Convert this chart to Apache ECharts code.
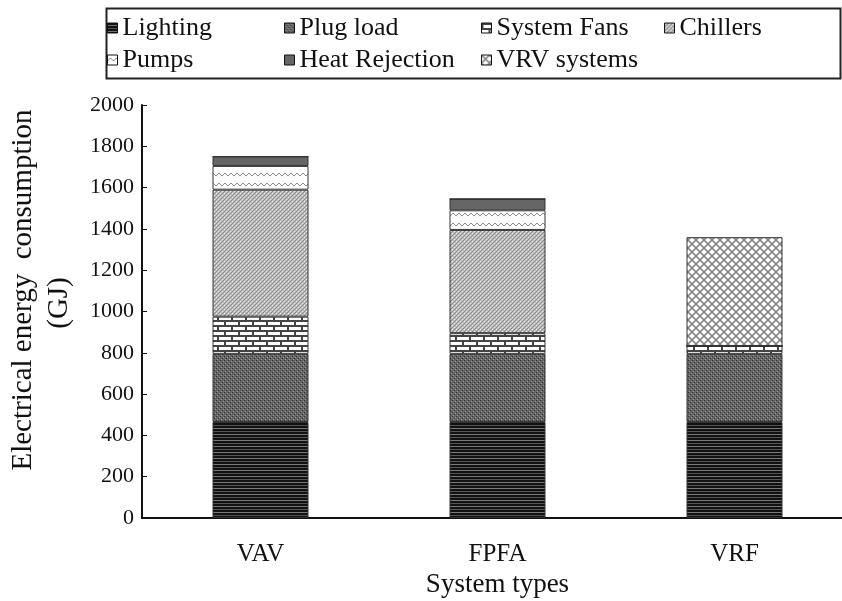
<!DOCTYPE html>
<html>
<head>
<meta charset="utf-8">
<script src="https://cdn.jsdelivr.net/npm/echarts@6/dist/echarts.min.js"></script>
<style>
html,body{margin:0;padding:0;background:#fff;}
#main{width:842px;height:601px;}
</style>
</head>
<body>
<div id="main"></div>
<script>
// ---- data ----
var categories = ['VAV', 'FPFA', 'VRF'];
var seriesNames = ['Lighting', 'Plug load', 'System Fans', 'Chillers', 'Pumps', 'Heat Rejection', 'VRV systems'];
var lighting = [465, 465, 465];
var plugLoad = [330, 330, 330];
var systemFans = [180, 100, 38];
var chillers = [615, 500, 0];
var pumps = [115, 95, 0];
var heatRejection = [45, 55, 0];
var vrvSystems = [0, 0, 527];
var yTicks = [0, 200, 400, 600, 800, 1000, 1200, 1400, 1600, 1800, 2000];
var yTitleLines = ['Electrical energy  consumption', '(GJ)'];
var xTitle = 'System types';

// ---- patterns ----
function tile(w, h, draw) {
  var c = document.createElement('canvas');
  c.width = w; c.height = h;
  var ctx = c.getContext('2d');
  draw(ctx, w, h);
  return { image: c, repeat: 'repeat' };
}
var patLighting = tile(4, 6, function (g, w, h) {
  g.fillStyle = '#111'; g.fillRect(0, 0, w, h);
  g.fillStyle = '#7a7a7a'; g.fillRect(0, 2, w, 1);
  g.fillStyle = '#555'; g.fillRect(0, 5, w, 1);
});
var patPlug = tile(4, 4, function (g, w, h) {
  g.fillStyle = '#656565'; g.fillRect(0, 0, w, h);
  g.fillStyle = '#333'; g.fillRect(0, 0, 1, 1); g.fillRect(2, 2, 1, 1);
  g.fillStyle = '#9a9a9a'; g.fillRect(1, 3, 1, 1); g.fillRect(3, 1, 1, 1);
});
var patFans = tile(14, 10, function (g, w, h) {
  g.fillStyle = '#fff'; g.fillRect(0, 0, w, h);
  g.fillStyle = '#444';
  g.fillRect(0, 0, w, 2); g.fillRect(0, 5, w, 2);
  g.fillRect(0, 0, 2, 5); g.fillRect(7, 5, 2, 5);
});
var patChillers = tile(4, 4, function (g, w, h) {
  g.fillStyle = '#bdbdbd'; g.fillRect(0, 0, w, h);
  g.fillStyle = '#8a8a8a'; g.fillRect(0, 3, 1, 1); g.fillRect(1, 2, 1, 1); g.fillRect(2, 1, 1, 1); g.fillRect(3, 0, 1, 1);
  g.fillStyle = '#eeeeee'; g.fillRect(2, 3, 1, 1); g.fillRect(0, 1, 1, 1);
});
var patPumps = tile(6, 10, function (g, w, h) {
  g.fillStyle = '#fff'; g.fillRect(0, 0, w, h);
  g.strokeStyle = '#888'; g.lineWidth = 1;
  g.beginPath(); g.moveTo(0, 6); g.lineTo(3, 3); g.lineTo(6, 6); g.stroke();
});
var patHeat = '#666';
var patVRV = tile(8, 8, function (g, w, h) {
  g.fillStyle = '#fff'; g.fillRect(0, 0, w, h);
  g.strokeStyle = '#888'; g.lineWidth = 1.6;
  g.beginPath(); g.moveTo(0, 0); g.lineTo(8, 8); g.moveTo(8, 0); g.lineTo(0, 8); g.stroke();
});

var values = [lighting, plugLoad, systemFans, chillers, pumps, heatRejection, vrvSystems];
var fills = [patLighting, patPlug, patFans, patChillers, patPumps, patHeat, patVRV];

var FONT = 'Liberation Serif';
var series = seriesNames.map(function (n, i) {
  return {
    name: n, type: 'bar', stack: 'total', barWidth: 96,
    data: values[i],
    itemStyle: { color: fills[i], borderColor: '#333', borderWidth: 1 }
  };
});

function legendCol(names, left) {
  return {
    data: names, orient: 'vertical', left: left, top: 15,
    icon: 'rect', itemWidth: 10, itemHeight: 10, itemGap: 6,
    selectedMode: false,
    itemStyle: { borderColor: '#111', borderWidth: 1 },
    textStyle: { fontFamily: FONT, fontSize: 26, color: '#111', padding: [0, 0, 0, 0] },
    padding: 0
  };
}

var chart = echarts.init(document.getElementById('main'), null, { renderer: 'canvas' });
chart.setOption({
  animation: false,
  backgroundColor: '#fff',
  graphic: [{
    type: 'rect', left: 104, top: 6,
    shape: { width: 734, height: 70 },
    style: { fill: 'none', stroke: '#222', lineWidth: 2 }
  }, {
    type: 'text', x: 23, y: 290, rotation: Math.PI / 2,
    style: { text: yTitleLines[0], fontFamily: FONT, fontSize: 29, fill: '#111', align: 'center', verticalAlign: 'middle' }
  }, {
    type: 'text', x: 59, y: 303, rotation: Math.PI / 2,
    style: { text: yTitleLines[1], fontFamily: FONT, fontSize: 29, fill: '#111', align: 'center', verticalAlign: 'middle' }
  }],
  legend: [
    legendCol(['Lighting', 'Pumps'], 107),
    legendCol(['Plug load', 'Heat Rejection'], 284),
    legendCol(['System Fans', 'VRV systems'], 481),
    legendCol(['Chillers'], 664)
  ],
  grid: { left: 142, top: 105, width: 711, height: 413, outerBoundsMode: 'none', containLabel: false },
  xAxis: {
    type: 'category', data: categories,
    name: xTitle, nameLocation: 'middle', nameGap: 48,
    nameTextStyle: { fontFamily: FONT, fontSize: 27, color: '#111' },
    axisLine: { lineStyle: { color: '#111', width: 2 } },
    axisTick: { inside: true, length: 6, lineStyle: { color: '#111' } },
    axisLabel: { fontFamily: FONT, fontSize: 25, color: '#111', margin: 24 }
  },
  yAxis: {
    type: 'value', min: yTicks[0], max: yTicks[yTicks.length - 1], interval: 200,
    axisLine: { show: true, lineStyle: { color: '#111', width: 2 } },
    axisTick: { show: true, inside: true, length: 5, lineStyle: { color: '#111' } },
    splitLine: { show: false },
    axisLabel: { fontFamily: FONT, fontSize: 22, color: '#111', margin: 8, formatter: function (v) { return String(v); } }
  },
  series: series
});
</script>
</body>
</html>
